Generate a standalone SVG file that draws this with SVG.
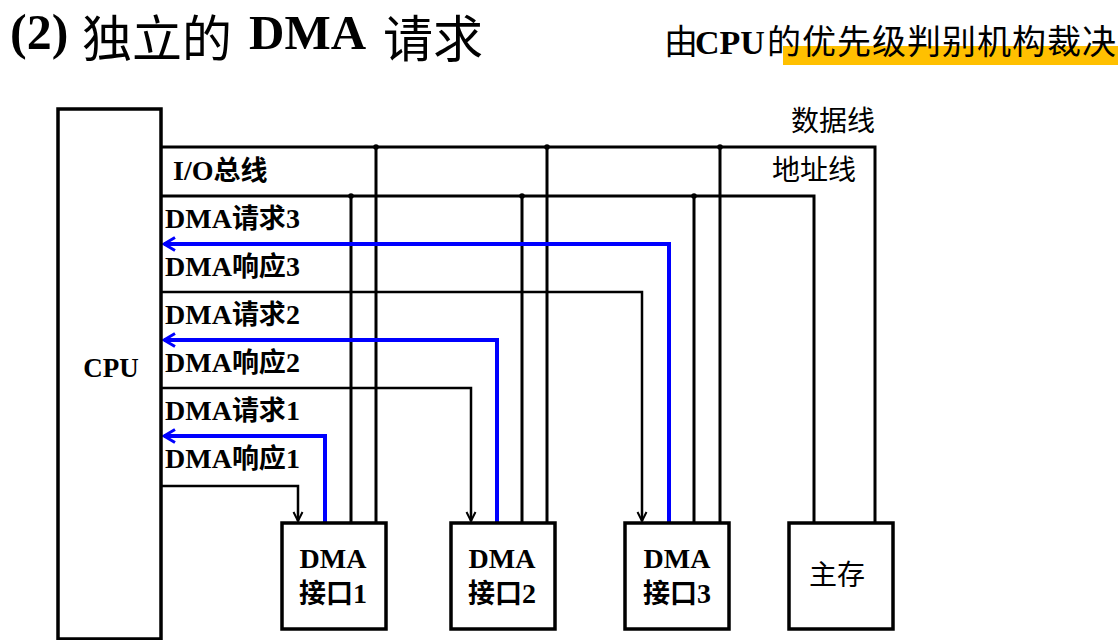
<svg xmlns="http://www.w3.org/2000/svg" width="1118" height="640" viewBox="0 0 1118 640">
<style>
.box{fill:#fff;stroke:#000;stroke-width:3.5}
.bus{fill:none;stroke:#000;stroke-width:3}
.req{fill:none;stroke:#0000ff;stroke-width:4}
.ack{fill:none;stroke:#000;stroke-width:2.5}
.lat{font-family:"Liberation Serif","Noto Sans CJK SC",serif;font-weight:bold}
.cjk{font-family:"Noto Sans CJK SC","Liberation Sans",sans-serif;font-weight:normal}
.lbl{font-family:"Liberation Serif","Noto Sans CJK SC",serif;font-weight:bold;font-size:28px;fill:#000}
.lbl .c{font-family:"Noto Sans CJK SC",sans-serif;font-size:27px;font-weight:bold}
.dot{fill:#000}
</style>
<defs>
<marker id="arrBlue" viewBox="-13 -8 15 16" refX="0" refY="0" markerWidth="15" markerHeight="16" markerUnits="userSpaceOnUse" orient="auto">
<path d="M-11,-6.5 L0,0 L-11,6.5" fill="none" stroke="#0000ff" stroke-width="3"/>
</marker>
<marker id="arrBlack" viewBox="-11 -6 12 12" refX="0" refY="0" markerWidth="12" markerHeight="12" markerUnits="userSpaceOnUse" orient="auto">
<path d="M-9,-4.5 L0,0 L-9,4.5" fill="none" stroke="#000" stroke-width="2"/>
</marker>
</defs>
<rect width="1118" height="640" fill="#fff"/>

<g id="title">
<text y="49" font-size="50" fill="#000"><tspan class="lat" x="10">(2)</tspan><tspan class="cjk" x="82" y="57" font-size="50">独立的</tspan><tspan class="lat" x="249" y="49" font-size="49">DMA</tspan><tspan class="cjk" x="383" y="57" font-size="50">请求</tspan></text>
</g>
<g id="subtitle">
<rect x="783" y="46" width="335" height="19" fill="#ffc000"/>
<text y="54" font-size="34" fill="#000"><tspan class="cjk" x="664">由</tspan><tspan class="lat" x="695" font-size="34">CPU</tspan><tspan class="cjk" x="767" letter-spacing="1">的优先级判别机构裁决</tspan></text>
</g>

<g id="connectors">
<path class="bus" d="M161,147 H875 V522"/>
<path class="bus" d="M161,196 H814 V522"/>
<path class="bus" d="M376,147 V522 M547,147 V522 M720,147 V522"/>
<path class="bus" d="M351,196 V522 M522,196 V522 M694,196 V522"/>
<circle class="dot" cx="376" cy="147" r="2.8"/>
<circle class="dot" cx="547" cy="147" r="2.8"/>
<circle class="dot" cx="720" cy="147" r="2.8"/>
<circle class="dot" cx="351" cy="196" r="2.8"/>
<circle class="dot" cx="522" cy="196" r="2.8"/>
<circle class="dot" cx="694" cy="196" r="2.8"/>
<path class="req" d="M669,522 V244 H164" marker-end="url(#arrBlue)"/>
<path class="req" d="M497,522 V340 H164" marker-end="url(#arrBlue)"/>
<path class="req" d="M325,522 V436 H164" marker-end="url(#arrBlue)"/>
<path class="ack" d="M161,292 H642 V521" marker-end="url(#arrBlack)"/>
<path class="ack" d="M161,388 H471 V521" marker-end="url(#arrBlack)"/>
<path class="ack" d="M161,486 H298 V521" marker-end="url(#arrBlack)"/>
</g>

<g id="cpu">
<rect class="box" x="58" y="109" width="103" height="530"/>
<text class="lat" x="111" y="377" font-size="27" text-anchor="middle">CPU</text>
</g>

<g id="bus-labels">
<text x="791" y="131" class="cjk" font-size="28" fill="#000" font-weight="bold">数据线</text>
<text x="772" y="180" class="cjk" font-size="28" fill="#000" font-weight="bold">地址线</text>
<text x="173" y="180" class="lbl">I/O<tspan class="c" font-size="28">总线</tspan></text>
<text x="165" y="228" class="lbl">DMA<tspan class="c">请求</tspan>3</text>
<text x="165" y="276" class="lbl">DMA<tspan class="c">响应</tspan>3</text>
<text x="165" y="324" class="lbl">DMA<tspan class="c">请求</tspan>2</text>
<text x="165" y="372" class="lbl">DMA<tspan class="c">响应</tspan>2</text>
<text x="165" y="420" class="lbl">DMA<tspan class="c">请求</tspan>1</text>
<text x="165" y="468" class="lbl">DMA<tspan class="c">响应</tspan>1</text>
</g>

<g id="dma1">
<rect class="box" x="282" y="523" width="104" height="106"/>
<text class="lbl" x="333" y="568" text-anchor="middle">DMA</text>
<text class="lbl" x="333" y="603" text-anchor="middle"><tspan class="c" font-size="27">接口</tspan>1</text>
</g>
<g id="dma2">
<rect class="box" x="451" y="523" width="104" height="106"/>
<text class="lbl" x="502" y="568" text-anchor="middle">DMA</text>
<text class="lbl" x="502" y="603" text-anchor="middle"><tspan class="c" font-size="27">接口</tspan>2</text>
</g>
<g id="dma3">
<rect class="box" x="625" y="523" width="104" height="106"/>
<text class="lbl" x="677" y="568" text-anchor="middle">DMA</text>
<text class="lbl" x="677" y="603" text-anchor="middle"><tspan class="c" font-size="27">接口</tspan>3</text>
</g>
<g id="mem">
<rect class="box" x="789" y="523" width="104" height="106"/>
<text class="cjk" x="837" y="585" font-size="28" text-anchor="middle" fill="#000">主存</text>
</g>
</svg>
